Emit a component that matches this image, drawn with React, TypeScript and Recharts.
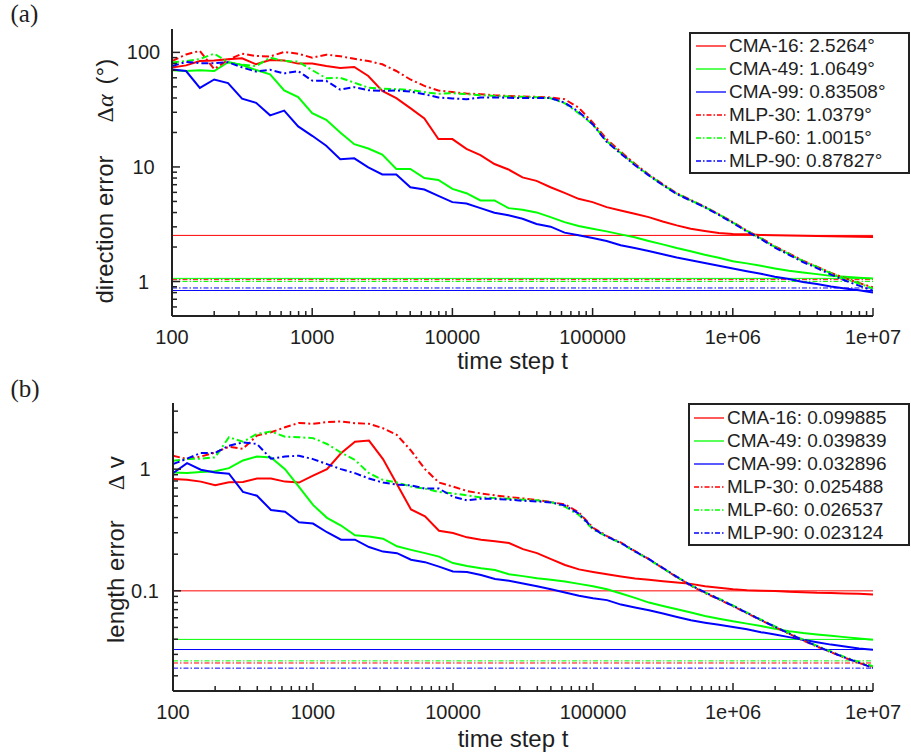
import React from 'react';
import { LineChart, Line, XAxis, YAxis, ReferenceLine, Legend } from 'recharts';

// ---------- data ----------
const T = [
  100, 126, 158, 200, 251, 316, 398, 501, 631, 794,
  1000, 1259, 1585, 1995, 2512, 3162, 3981, 5012, 6310, 7943,
  10000, 12589, 15849, 19953, 25119, 31623, 39811, 50119, 63096, 79433,
  100000, 125893, 158489, 199526, 251189, 316228, 398107, 501187, 630957, 794328,
  1000000, 1258925, 1584893, 1995262, 2511886, 3162278, 3981072, 5011872, 6309573, 7943282,
  10000000,
];

const NAMES = ['CMA-16', 'CMA-49', 'CMA-99', 'MLP-30', 'MLP-60', 'MLP-90'];
const KEYS = ['cma16', 'cma49', 'cma99', 'mlp30', 'mlp60', 'mlp90'];
const COLORS = ['#ff0000', '#00ff00', '#0000ff', '#ff0000', '#00ff00', '#0000ff'];
const DASHED = [false, false, false, true, true, true];

// (a) direction error
const A_CMA16 = [
  73.6, 77, 84, 85, 87, 88.7, 78.7, 85.8, 85, 79.8,
  79.8, 76, 73.1, 74.6, 62.2, 46.1, 39.8, 32.6, 26.5, 17.5,
  17.5, 14.4, 12.7, 10.6, 9.5, 8.1, 7.56, 6.65, 5.94, 5.27,
  4.93, 4.46, 4.17, 3.9, 3.65, 3.34, 3.09, 2.89, 2.76, 2.65,
  2.6, 2.58, 2.55, 2.53, 2.52, 2.51, 2.49, 2.48, 2.47, 2.46,
  2.45,
];
const A_CMA49 = [
  69.7, 68.7, 69.7, 68.7, 82, 77.6, 70.2, 64.4, 46.5, 40.8,
  29.5, 25.8, 20, 15.8, 14.5, 12.8, 9.6, 9.6, 8.0, 7.7,
  6.44, 5.9, 5.1, 5.1, 4.37, 4.23, 4.01, 3.65, 3.3, 3.05,
  2.89, 2.74, 2.58, 2.43, 2.26, 2.11, 1.96, 1.84, 1.71, 1.61,
  1.5, 1.44, 1.37, 1.3, 1.24, 1.2, 1.16, 1.12, 1.1, 1.08,
  1.06,
];
const A_CMA99 = [
  71, 68.7, 49, 58, 54, 39.5, 36.3, 28.2, 31, 22.6,
  18.7, 15.3, 11.7, 11.9, 9.9, 8.6, 8.6, 6.65, 6.35, 5.6,
  4.93, 4.8, 4.37, 3.98, 3.78, 3.53, 3.18, 3.01, 2.67, 2.53,
  2.4, 2.26, 2.07, 1.96, 1.85, 1.73, 1.62, 1.53, 1.45, 1.37,
  1.3, 1.23, 1.17, 1.1, 1.05, 0.99, 0.95, 0.906, 0.87, 0.84,
  0.8,
];
const A_MLP30 = [
  84, 96, 103, 71.5, 86, 97.5, 93, 92, 101, 97.3,
  90, 95.5, 92.5, 88, 84, 78.7, 68.8, 58, 51, 46.5,
  45, 43.7, 43.2, 42.3, 41.7, 41.2, 40.9, 40.4, 39.0, 33.0,
  24.5, 17.5, 13.6, 10.7, 8.6, 7.1, 5.9, 5.15, 4.5, 3.87,
  3.3, 2.78, 2.4, 2.03, 1.76, 1.52, 1.35, 1.19, 1.07, 0.97,
  0.89,
];
const A_MLP60 = [
  81.5, 84, 87.5, 97.5, 82, 78, 76, 90, 84, 83,
  70, 59.5, 60, 54.5, 49.2, 48.3, 47.7, 47, 45, 43.5,
  44, 43.2, 42.3, 41.7, 41.2, 40.9, 40.6, 39.8, 36.1, 29.5,
  23.6, 16.8, 13.3, 10.5, 8.5, 7.0, 5.85, 5.12, 4.47, 3.85,
  3.28, 2.76, 2.38, 2.01, 1.74, 1.51, 1.34, 1.18, 1.06, 0.96,
  0.87,
];
const A_MLP90 = [
  76, 82.5, 80.5, 80.5, 82, 74, 68, 70.5, 65.5, 68.7,
  56.7, 56.5, 47.3, 49.7, 46.8, 46.1, 46.6, 45.5, 43.2, 40.4,
  39.6, 39, 40.4, 40.4, 40.2, 39.9, 39.9, 39.9, 36.5, 30.3,
  23.6, 16.6, 13.1, 10.4, 8.45, 6.95, 5.8, 5.08, 4.44, 3.82,
  3.25, 2.73, 2.35, 1.98, 1.71, 1.48, 1.31, 1.15, 1.02, 0.92,
  0.83,
];
const A_FINAL = [2.5264, 1.0649, 0.83508, 1.0379, 1.0015, 0.87827];

// (b) length error
const B_CMA16 = [
  0.83, 0.817, 0.79, 0.737, 0.78, 0.785, 0.837, 0.837, 0.79, 0.776,
  0.885, 1.0, 1.35, 1.68, 1.72, 1.21, 0.751, 0.466, 0.41, 0.312,
  0.299, 0.275, 0.263, 0.255, 0.247, 0.22, 0.204, 0.182, 0.163, 0.15,
  0.143, 0.137, 0.131, 0.126, 0.123, 0.12, 0.117, 0.114, 0.109, 0.106,
  0.103, 0.101, 0.1, 0.0995, 0.098, 0.0975, 0.0963, 0.0957, 0.095, 0.0945,
  0.0933,
];
const B_CMA49 = [
  0.94, 0.93, 0.95, 0.96, 1.02, 1.18, 1.27, 1.25, 1.0, 0.715,
  0.508, 0.398, 0.344, 0.286, 0.28, 0.268, 0.232, 0.217, 0.204, 0.191,
  0.169, 0.16, 0.153, 0.148, 0.137, 0.132, 0.127, 0.123, 0.119, 0.114,
  0.109, 0.103, 0.095, 0.0875, 0.08, 0.0751, 0.0705, 0.0662, 0.0621, 0.059,
  0.0561, 0.0537, 0.0513, 0.0488, 0.0466, 0.0449, 0.0438, 0.0427, 0.0416, 0.0406,
  0.0396,
];
const B_CMA99 = [
  0.927, 1.12, 0.99, 0.94, 0.917, 0.65, 0.605, 0.462, 0.446, 0.366,
  0.357, 0.303, 0.263, 0.263, 0.229, 0.21, 0.204, 0.18, 0.172, 0.158,
  0.144, 0.143, 0.135, 0.125, 0.121, 0.115, 0.109, 0.103, 0.097, 0.091,
  0.087, 0.0838, 0.077, 0.0728, 0.0692, 0.065, 0.061, 0.0572, 0.0547, 0.0526,
  0.0503, 0.0482, 0.0457, 0.0438, 0.0416, 0.0396, 0.0378, 0.0361, 0.0348, 0.0335,
  0.0327,
];
const B_MLP30 = [
  1.29, 1.21, 1.27, 1.37, 1.53, 1.47, 1.89, 2.01, 2.21, 2.4,
  2.36, 2.44, 2.47, 2.39, 2.36, 2.17, 1.91, 1.42, 1.0, 0.776,
  0.719, 0.661, 0.632, 0.609, 0.59, 0.575, 0.557, 0.536, 0.513, 0.44,
  0.33, 0.282, 0.249, 0.212, 0.182, 0.153, 0.129, 0.11, 0.096, 0.0849,
  0.0747, 0.0653, 0.0572, 0.0503, 0.0443, 0.0391, 0.0348, 0.0313, 0.0281, 0.0255,
  0.0235,
];
const B_MLP60 = [
  1.17, 1.21, 1.22, 1.25, 1.83, 1.68, 1.95, 2.04, 1.85, 1.83,
  1.8, 1.61, 1.37, 1.19, 0.927, 0.816, 0.776, 0.719, 0.692, 0.649,
  0.632, 0.609, 0.586, 0.578, 0.572, 0.561, 0.554, 0.536, 0.491, 0.42,
  0.32, 0.278, 0.246, 0.21, 0.181, 0.153, 0.13, 0.111, 0.097, 0.086,
  0.0757, 0.0662, 0.058, 0.051, 0.045, 0.0397, 0.0353, 0.0317, 0.0285, 0.0259,
  0.024,
];
const B_MLP90 = [
  1.1, 1.22, 1.36, 1.36, 1.56, 1.66, 1.61, 1.22, 1.27, 1.29,
  1.21, 1.1, 1.0, 0.927, 0.837, 0.776, 0.746, 0.737, 0.692, 0.692,
  0.594, 0.554, 0.572, 0.57, 0.561, 0.55, 0.543, 0.533, 0.503, 0.43,
  0.325, 0.279, 0.247, 0.211, 0.182, 0.154, 0.13, 0.111, 0.097, 0.0855,
  0.0752, 0.0658, 0.0575, 0.0505, 0.0445, 0.0393, 0.035, 0.0314, 0.0282, 0.0256,
  0.0232,
];
const B_FINAL = [0.099885, 0.039839, 0.032896, 0.025488, 0.026537, 0.023124];

// ticks
const X_MAJOR = [100, 1000, 10000, 100000, 1000000, 10000000];
const X_MAJOR_LABELS = ['100', '1000', '10000', '100000', '1e+06', '1e+07'];
const X_MINOR = [
  200, 300, 400, 500, 600, 700, 800, 900,
  2000, 3000, 4000, 5000, 6000, 7000, 8000, 9000,
  20000, 30000, 40000, 50000, 60000, 70000, 80000, 90000,
  200000, 300000, 400000, 500000, 600000, 700000, 800000, 900000,
  2000000, 3000000, 4000000, 5000000, 6000000, 7000000, 8000000, 9000000,
];
const A_Y_MAJOR = [1, 10, 100];
const A_Y_LABELS = ['1', '10', '100'];
const A_Y_MINOR = [0.6, 0.7, 0.8, 0.9, 2, 3, 4, 5, 6, 7, 8, 9, 20, 30, 40, 50, 60, 70, 80, 90];
const B_Y_MAJOR = [0.1, 1];
const B_Y_LABELS = ['0.1', '1'];
const B_Y_MINOR = [0.02, 0.03, 0.04, 0.05, 0.06, 0.07, 0.08, 0.09, 0.2, 0.3, 0.4, 0.5, 0.6, 0.7, 0.8, 0.9, 2, 3];

// ---------- styling ----------
const FONT = '"Liberation Sans", Arial, Helvetica, sans-serif';
const SERIF = '"Liberation Serif", "Times New Roman", serif';
const AXIS = '#222';
const TEXT = '#1e1e1e';
const CURVE_DASH = '7 3 2 3';
const THIN_DASH = '5 2 1.5 2';

const buildRows = (cols: number[][]) =>
  T.map((t, i) => {
    const row: Record<string, number> = { t };
    KEYS.forEach((k, j) => {
      row[k] = cols[j][i];
    });
    return row;
  });

const ROWS_A = buildRows([A_CMA16, A_CMA49, A_CMA99, A_MLP30, A_MLP60, A_MLP90]);
const ROWS_B = buildRows([B_CMA16, B_CMA49, B_CMA99, B_MLP30, B_MLP60, B_MLP90]);

const XTick = (props: any) => {
  const { x, y, payload } = props;
  const mi = X_MAJOR.indexOf(payload.value);
  const major = mi >= 0;
  return (
    <g>
      <line x1={x} x2={x} y1={y} y2={y - (major ? 8 : 5)} stroke={AXIS} strokeWidth={1.5} />
      {major && (
        <text x={x} y={y + 28} textAnchor="middle" fontSize={20} fontFamily={FONT} fill={TEXT}>
          {X_MAJOR_LABELS[mi]}
        </text>
      )}
    </g>
  );
};

const makeYTick = (majors: number[], labels: string[], labelOffset: number) => (props: any) => {
  const { x, y, payload } = props;
  const mi = majors.indexOf(payload.value);
  const major = mi >= 0;
  return (
    <g>
      <line x1={x} x2={x + (major ? 8 : 5)} y1={y} y2={y} stroke={AXIS} strokeWidth={1.5} />
      {major && (
        <text x={x - labelOffset} y={y + 7} textAnchor="middle" fontSize={20} fontFamily={FONT} fill={TEXT}>
          {labels[mi]}
        </text>
      )}
    </g>
  );
};

const YLabelA = (props: any) => {
  const vb = props.viewBox || {};
  const cx = (vb.x || 0) + 113;
  const start = vb.y + vb.height / 2 + 131;
  return (
    <text
      x={cx}
      y={start}
      transform={`rotate(-90 ${cx} ${start})`}
      fontSize={24}
      fontFamily={FONT}
      fill={TEXT}
      textAnchor="start"
    >
      <tspan>direction error</tspan>
      <tspan dx={33} fontFamily={SERIF}>Δ</tspan>
      <tspan fontFamily={SERIF} fontStyle="italic">α</tspan>
      <tspan dx={10}>(°)</tspan>
    </text>
  );
};

const YLabelB = (props: any) => {
  const vb = props.viewBox || {};
  const cx = (vb.x || 0) + 124;
  const start = vb.y + vb.height / 2 + 96;
  return (
    <text
      x={cx}
      y={start}
      transform={`rotate(-90 ${cx} ${start})`}
      fontSize={24}
      fontFamily={FONT}
      fill={TEXT}
      textAnchor="start"
    >
      <tspan>length error</tspan>
      <tspan dx={30} fontFamily={SERIF}>Δ</tspan>
      <tspan> v</tspan>
    </text>
  );
};

const makeXLabel = (baselineOffset: number) => (props: any) => {
  const vb = props.viewBox || {};
  return (
    <text
      x={vb.x + vb.width / 2 - 10}
      y={vb.y + baselineOffset}
      textAnchor="middle"
      fontSize={24}
      fontFamily={FONT}
      fill={TEXT}
    >
      time step t
    </text>
  );
};

const makeLegend = (padTop: number, sampleLeft: number) => (props: any) => {
  const payload = props.payload || [];
  return (
    <div
      style={{
        border: `2px solid ${AXIS}`,
        background: '#fff',
        boxSizing: 'border-box',
        width: '100%',
        height: '100%',
        paddingTop: padTop,
        fontFamily: FONT,
        fontSize: 19,
        color: TEXT,
      }}
    >
      {payload.map((entry: any) => {
        const idx = KEYS.indexOf(entry.dataKey);
        const dashed = DASHED[idx];
        return (
          <div
            key={entry.dataKey}
            style={{ display: 'flex', alignItems: 'center', height: 23, lineHeight: '23px', whiteSpace: 'nowrap' }}
          >
            <svg width={30} height={4} style={{ marginLeft: sampleLeft, marginRight: 3, flex: 'none' }}>
              <line
                x1={0}
                x2={30}
                y1={2}
                y2={2}
                stroke={entry.color}
                strokeWidth={1.3}
                strokeDasharray={dashed ? THIN_DASH : undefined}
              />
            </svg>
            <span>{entry.value}</span>
          </div>
        );
      })}
    </div>
  );
};

type PanelProps = {
  rows: Record<string, number>[];
  finals: number[];
  unit: string;
  height: number;
  top: number;
  yWidth: number;
  xHeight: number;
  yDomain: [number, number];
  yTicks: number[];
  yTick: (p: any) => React.ReactElement;
  yLabel: (p: any) => React.ReactElement;
  xLabel: (p: any) => React.ReactElement;
  legendBox: { left: number; top: number; width: number; height: number };
  legendContent: (p: any) => React.ReactElement;
};

const Panel = (p: PanelProps) => (
  <LineChart
    width={911}
    height={p.height}
    data={p.rows}
    margin={{ top: p.top, right: 38, bottom: 0, left: 0 }}
  >
    <XAxis
      dataKey="t"
      type="number"
      scale="log"
      domain={[100, 10000000]}
      allowDataOverflow
      ticks={[...X_MAJOR, ...X_MINOR]}
      interval={0}
      tickLine={false}
      tickSize={0}
      tickMargin={0}
      tick={XTick}
      height={p.xHeight}
      axisLine={{ stroke: AXIS, strokeWidth: 2 }}
      label={p.xLabel}
    />
    <YAxis
      type="number"
      scale="log"
      domain={p.yDomain}
      allowDataOverflow
      ticks={p.yTicks}
      interval={0}
      tickLine={false}
      tickSize={0}
      tickMargin={0}
      tick={p.yTick}
      width={p.yWidth}
      axisLine={{ stroke: AXIS, strokeWidth: 2 }}
      label={p.yLabel}
    />
    {p.finals.map((v, i) => (
      <ReferenceLine
        key={'ref' + i}
        y={v}
        stroke={COLORS[i]}
        strokeWidth={1}
        strokeDasharray={DASHED[i] ? THIN_DASH : undefined}
        ifOverflow="hidden"
      />
    ))}
    {KEYS.map((k, i) => (
      <Line
        key={k}
        dataKey={k}
        name={`${NAMES[i]}: ${p.finals[i]}${p.unit}`}
        type="linear"
        stroke={COLORS[i]}
        strokeWidth={2}
        strokeDasharray={DASHED[i] ? CURVE_DASH : undefined}
        dot={false}
        activeDot={false}
        isAnimationActive={false}
      />
    ))}
    <Legend
      layout="vertical"
      align="center"
      verticalAlign="middle"
      content={p.legendContent}
      wrapperStyle={{
        position: 'absolute',
        left: p.legendBox.left,
        top: p.legendBox.top,
        width: p.legendBox.width,
        height: p.legendBox.height,
        margin: 0,
      }}
    />
  </LineChart>
);

export default function App() {
  return (
    <div
      style={{
        position: 'absolute',
        left: 0,
        top: 0,
        width: 911,
        height: 753,
        background: '#fff',
        fontFamily: FONT,
        overflow: 'hidden',
      }}
    >
      <div style={{ position: 'absolute', left: 0, top: 0 }}>
        <Panel
          rows={ROWS_A}
          finals={A_FINAL}
          unit="°"
          height={377}
          top={29}
          yWidth={172}
          xHeight={61}
          yDomain={[0.5, 160]}
          yTicks={[...A_Y_MAJOR, ...A_Y_MINOR]}
          yTick={makeYTick(A_Y_MAJOR, A_Y_LABELS, 28.5)}
          yLabel={YLabelA}
          xLabel={makeXLabel(53)}
          legendBox={{ left: 689, top: 32, width: 221, height: 142 }}
          legendContent={makeLegend(0, 5)}
        />
      </div>
      <div style={{ position: 'absolute', left: 0, top: 370 }}>
        <Panel
          rows={ROWS_B}
          finals={B_FINAL}
          unit=""
          height={383}
          top={33}
          yWidth={173}
          xHeight={62}
          yDomain={[0.015, 3.5]}
          yTicks={[...B_Y_MAJOR, ...B_Y_MINOR]}
          yTick={makeYTick(B_Y_MAJOR, B_Y_LABELS, 28)}
          yLabel={YLabelB}
          xLabel={makeXLabel(56)}
          legendBox={{ left: 688, top: 33, width: 222, height: 143 }}
          legendContent={makeLegend(1, 4)}
        />
      </div>
      <svg
        width={911}
        height={753}
        style={{ position: 'absolute', left: 0, top: 0, pointerEvents: 'none' }}
      >
        <text x={10.5} y={21.5} fontSize={25} fontFamily={SERIF} fill={TEXT}>(a)</text>
        <text x={10.5} y={397} fontSize={25} fontFamily={SERIF} fill={TEXT}>(b)</text>
      </svg>
    </div>
  );
}
